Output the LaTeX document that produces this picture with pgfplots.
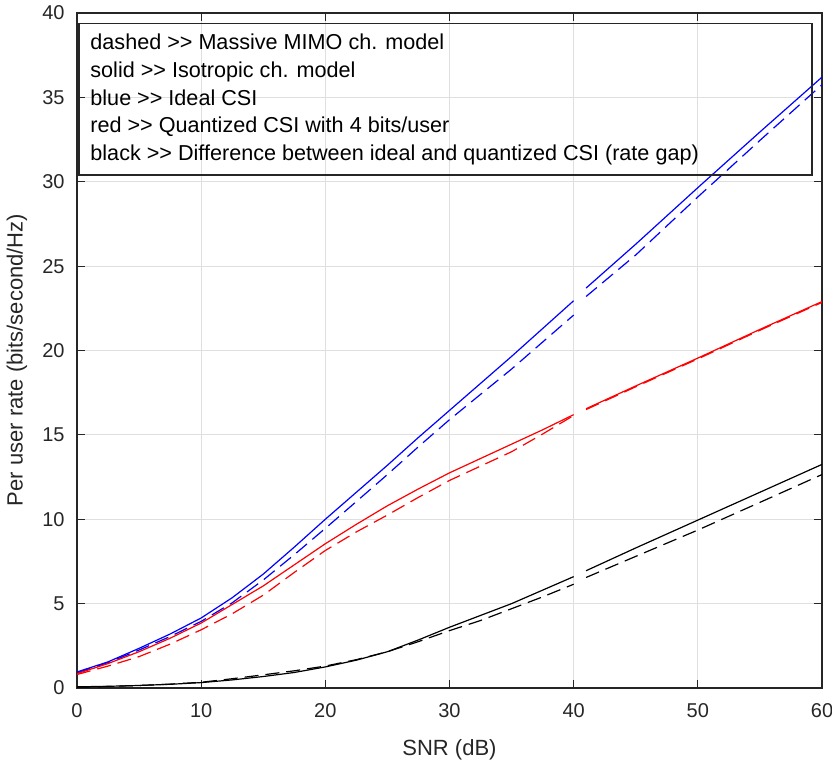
\documentclass[border=0pt]{standalone}
\usepackage{fontspec}
\setmainfont{Liberation Sans}
\usepackage{pgfplots}
\pgfplotsset{compat=1.18}
\usetikzlibrary{calc}
\definecolor{gridgray}{RGB}{223,223,223}
\definecolor{axgray}{RGB}{38,38,38}
\definecolor{mblue}{RGB}{0,0,255}
\definecolor{mred}{RGB}{255,0,0}
\newcommand{\arr}{>{}>}

\begin{document}
\begin{tikzpicture}
\begin{axis}[
    name=ax,
    scale only axis,
    width=372.5pt, height=337.5pt,
    xmin=0, xmax=60, ymin=0, ymax=40,
    xtick={0,10,...,60}, ytick={0,5,...,40},
    axis line style={axgray, line width=0.7pt},
    tick style={axgray, line width=0.6pt},
    major tick length=4pt,
    tick align=inside,
    grid=major, major grid style={gridgray, line width=0.6pt},
    /pgf/number format/assume math mode=true,
    tick label style={font=\fontsize{10}{12}\selectfont, text=axgray},
    xticklabel style={anchor=center, yshift=-11.2pt},
    yticklabel style={xshift=-2.7pt},
    xlabel={SNR (dB)},
    ylabel={Per user rate (bits/second/Hz)},
    label style={font=\fontsize{11}{13}\selectfont, text=axgray},
    xlabel style={at={(axis description cs:0.5,-0.092)}, anchor=center},
    ylabel style={at={(axis description cs:-0.0805,0.486)}, anchor=center},
    unbounded coords=jump,
    every axis plot/.append style={line width=0.6pt},
    mdash/.style={dash pattern=on 7pt off 3.5pt},
]
% blue: ideal CSI
\addplot[mblue] coordinates {
 (0,0.95)(2.5,1.55)(5,2.35)(7.5,3.2)(10,4.15)(12.5,5.35)(15,6.75)(17.5,8.35)
 (20,10.0)(22.5,11.6)(25,13.2)(27.5,14.85)(30,16.45)(32.5,18.05)(35,19.65)
 (37.5,21.3)(40,22.95)(40.5,nan)
 (41,23.7)(45,26.3)(50,29.65)(55,32.95)(60,36.2)};
\addplot[mblue, mdash] coordinates {
 (0,0.9)(2.5,1.5)(5,2.25)(7.5,3.05)(10,3.95)(12.5,5.05)(15,6.4)(17.5,7.9)
 (20,9.46)(22.5,11.05)(25,12.65)(27.5,14.3)(30,15.9)(32.5,17.4)(35,18.9)
 (37.5,20.5)(40,22.1)(40.5,nan)
 (41,23.2)(45,25.66)(50,29.1)(55,32.45)(60,35.75)};
% red: quantized CSI, 4 bits/user
\addplot[mred] coordinates {
 (0,0.85)(2.5,1.45)(5,2.15)(7.5,2.95)(10,3.85)(12.5,4.95)(15,6.05)(17.5,7.3)
 (20,8.55)(22.5,9.7)(25,10.8)(27.5,11.8)(30,12.75)(32.5,13.6)(35,14.45)
 (37.5,15.3)(40,16.2)(40.5,nan)
 (41,16.55)(45,17.9)(50,19.55)(55,21.25)(60,22.9)};
\addplot[mred, mdash] coordinates {
 (0,0.8)(2.5,1.3)(5,1.86)(7.5,2.6)(10,3.45)(12.5,4.4)(15,5.5)(17.5,6.85)
 (20,8.15)(22.5,9.25)(25,10.25)(27.5,11.3)(30,12.3)(32.5,13.15)(35,14.0)
 (37.5,15.05)(40,16.15)(40.5,nan)
 (41,16.5)(45,17.85)(50,19.5)(55,21.2)(60,22.85)};
% black: rate gap
\addplot[black] coordinates {
 (0,0.07)(2.5,0.1)(5,0.15)(7.5,0.22)(10,0.32)(12.5,0.48)(15,0.68)(17.5,0.92)
 (20,1.25)(22.5,1.65)(25,2.15)(27.5,2.85)(30,3.6)(32.5,4.3)(35,5.0)
 (37.5,5.8)(40,6.6)(40.5,nan)
 (41,6.95)(45,8.3)(50,9.95)(55,11.6)(60,13.25)};
\addplot[black, mdash] coordinates {
 (0,0.05)(2.5,0.09)(5,0.15)(7.5,0.23)(10,0.34)(12.5,0.55)(15,0.78)(17.5,1.02)
 (20,1.3)(22.5,1.68)(25,2.15)(27.5,2.75)(30,3.4)(32.5,4.0)(35,4.7)
 (37.5,5.4)(40,6.15)(40.5,nan)
 (41,6.55)(45,7.8)(50,9.36)(55,11.0)(60,12.65)};
% annotation box
\draw[axgray, line width=0.6pt] (axis cs:0.16,30.4) rectangle (axis cs:59.2,39.4);
\begin{scope}[every node/.style={anchor=base west, inner sep=0pt, font=\fontsize{10.8}{13}\selectfont, text=black}]
\node at (axis cs:1.05,37.81) {dashed \arr{} Massive MIMO ch. model};
\node at (axis cs:1.05,36.17) {solid \arr{} Isotropic ch. model};
\node at (axis cs:1.05,34.53) {blue \arr{} Ideal CSI};
\node at (axis cs:1.05,32.89) {red \arr{} Quantized CSI with 4 bits/user};
\node at (axis cs:1.05,31.25) {black \arr{} Difference between ideal and quantized CSI (rate gap)};
\end{scope}
\end{axis}
\pgfresetboundingbox
\path ($(ax.south west)+(-38.5pt,-36pt)$) rectangle ($(ax.north east)+(5pt,6.5pt)$);
\end{tikzpicture}
\end{document}
